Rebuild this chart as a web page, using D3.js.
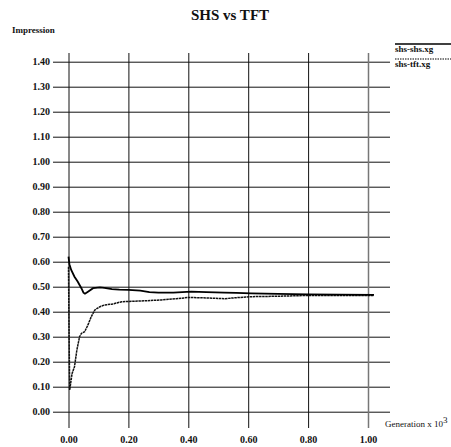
<!DOCTYPE html>
<html>
<head>
<meta charset="utf-8">
<script src="https://cdn.jsdelivr.net/npm/d3@7"></script>
<style>
body{margin:0;background:#fff;}
text{font-family:"Liberation Serif","DejaVu Serif",serif;fill:#111;}
</style>
</head>
<body>
<script>
var width=451, height=447;

// generation (x 10^3) and impression for each run
var genShs = [0, 0.003, 0.009, 0.02, 0.031, 0.043, 0.05, 0.055, 0.065, 0.082, 0.105, 0.12, 0.145, 0.17, 0.20, 0.24, 0.27, 0.30, 0.35, 0.41, 0.46, 0.52, 0.56, 0.61, 0.70, 0.80, 0.90, 1.02];
var shsShs = [0.62, 0.59, 0.567, 0.54, 0.52, 0.494, 0.476, 0.472, 0.48, 0.494, 0.497, 0.495, 0.49, 0.488, 0.487, 0.484, 0.478, 0.476, 0.476, 0.48, 0.478, 0.476, 0.475, 0.473, 0.471, 0.469, 0.468, 0.467];

var genTft = [0, 0.002, 0.004, 0.008, 0.012, 0.02, 0.028, 0.037, 0.043, 0.054, 0.065, 0.076, 0.088, 0.105, 0.12, 0.145, 0.178, 0.22, 0.26, 0.31, 0.36, 0.40, 0.46, 0.52, 0.56, 0.61, 0.70, 0.80, 0.90, 1.02];
var shsTft = [0.58, 0.3, 0.087, 0.12, 0.153, 0.18, 0.247, 0.30, 0.313, 0.32, 0.347, 0.38, 0.407, 0.42, 0.427, 0.43, 0.44, 0.442, 0.444, 0.447, 0.452, 0.457, 0.455, 0.452, 0.456, 0.46, 0.462, 0.465, 0.465, 0.465];

var xTicks = [0, 0.2, 0.4, 0.6, 0.8, 1.0];
var yTicks = d3.range(0, 15).map(function(i){ return i/10; });
var legendNames = ["shs-shs.xg", "shs-tft.xg"];

var svg = d3.select("body").append("svg")
    .attr("width", width)
    .attr("height", height);

var x = d3.scaleLinear().domain([0, 1]).range([68.5, 368]);
var y = d3.scaleLinear().domain([0, 1.4]).range([411.7, 61.7]);

var gridLeft = 53, gridRight = 390, gridTop = 53, gridBottom = 428;

// horizontal grid + y labels
var yAxis = svg.append("g")
    .attr("transform", "translate(" + gridLeft + ",0)")
    .call(d3.axisLeft(y).tickValues(yTicks).tickFormat(d3.format(".2f"))
        .tickSize(-(gridRight - gridLeft)).tickPadding(3));
yAxis.select(".domain").remove();
yAxis.selectAll("line").attr("stroke", "#111").attr("stroke-width", 1);
yAxis.selectAll("text").attr("font-size", 10).attr("font-weight", "bold").attr("fill", "#111")
    .attr("font-family", "Liberation Serif");

// vertical grid + x labels
var xAxis = svg.append("g")
    .attr("transform", "translate(0," + gridBottom + ")")
    .call(d3.axisBottom(x).tickValues(xTicks).tickFormat(d3.format(".2f"))
        .tickSize(-(gridBottom - gridTop)).tickPadding(8));
xAxis.select(".domain").remove();
xAxis.selectAll("line").attr("stroke", function(d){ return d == 1 ? "#777" : "#111"; })
    .attr("stroke-width", function(d){ return d == 1 ? 1.5 : 1; });
xAxis.selectAll("text").attr("font-size", 10).attr("font-weight", "bold").attr("fill", "#111")
    .attr("font-family", "Liberation Serif");

// curves
var line = d3.line()
    .x(function(d){ return x(d[0]); })
    .y(function(d){ return y(d[1]); });

svg.append("path")
    .datum(d3.zip(genTft, shsTft))
    .attr("d", line)
    .attr("fill", "none")
    .attr("stroke", "#111")
    .attr("stroke-width", 1.5)
    .attr("stroke-dasharray", "2.5,0.6");

svg.append("path")
    .datum(d3.zip(genShs, shsShs))
    .attr("d", line)
    .attr("fill", "none")
    .attr("stroke", "#000")
    .attr("stroke-width", 1.8);

// titles
svg.append("text")
    .attr("x", 230).attr("y", 20)
    .attr("text-anchor", "middle")
    .attr("font-size", 15).attr("font-weight", "bold")
    .text("SHS vs TFT");

svg.append("text")
    .attr("x", 12).attr("y", 33)
    .attr("font-size", 9).attr("font-weight", "bold")
    .text("Impression");

var xt = svg.append("text")
    .attr("x", 385).attr("y", 427)
    .attr("font-size", 9);
xt.append("tspan").text("Generation x 10");
xt.append("tspan").attr("dy", -4).attr("font-size", 9).text("3");

// legend
var leg = svg.append("g").selectAll("g")
    .data(legendNames).enter().append("g")
    .attr("transform", function(d, i){ return "translate(395," + (44 + i * 15) + ")"; });
leg.append("line")
    .attr("x1", 0).attr("x2", 56)
    .attr("stroke", "#000")
    .attr("stroke-width", function(d, i){ return i == 0 ? 1.5 : 1; })
    .attr("stroke-dasharray", function(d, i){ return i == 0 ? null : "1.5,1"; });
leg.append("text")
    .attr("x", 0).attr("y", 8)
    .attr("font-size", 9).attr("font-weight", "bold")
    .text(function(d){ return d; });
</script>
</body>
</html>
